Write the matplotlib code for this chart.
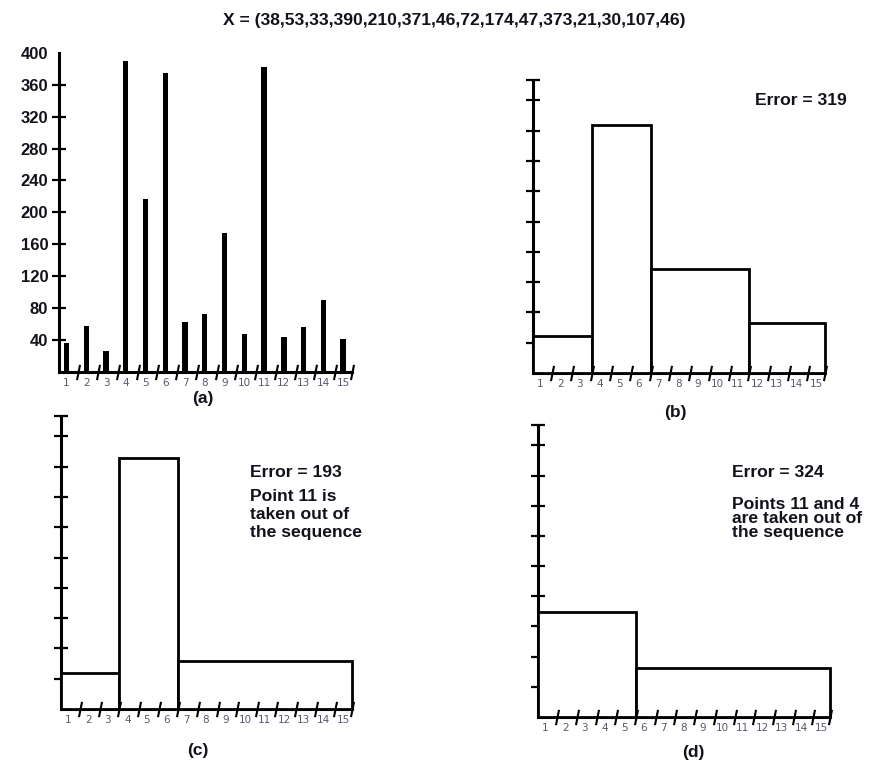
import matplotlib
matplotlib.use("Agg")
import matplotlib.pyplot as plt
import numpy as np

# ---------------- data ----------------
title_text = "X = (38,53,33,390,210,371,46,72,174,47,373,21,30,107,46)"
points = list(range(1, 16))
point_labels = [str(p) for p in points]

# panel (a): bar heights
values_a = [36, 58, 26, 390, 217, 375, 63, 73, 174, 48, 382, 44, 56, 90, 41]
yticks_a = [40, 80, 120, 160, 200, 240, 280, 320, 360, 400]
ylabels_a = [str(v) for v in yticks_a]

# panel (b): segments (first point of each segment) and segment levels
seg_start_b = [1, 4, 7, 12]
seg_level_b = [49, 327, 137, 66]
note_b = "Error = 319"

# panel (c)
seg_start_c = [1, 4, 7]
seg_level_c = [48, 331, 63]
note_c = "Error = 193"
text_c = "Point 11 is\ntaken out of\nthe sequence"

# panel (d)
seg_start_d = [1, 6]
seg_level_d = [139, 65]
note_d = "Error = 324"
text_d = "Points 11 and 4\nare taken out of\nthe sequence"

panel_names = ["(a)", "(b)", "(c)", "(d)"]
yticks_seg = [40, 80, 120, 160, 200, 240, 280, 320, 360]

# ---------------- layout ----------------
W, H = 871, 763
fig = plt.figure(figsize=(W / 100, H / 100), dpi=100)
fig.patch.set_facecolor("white")

X0, X1 = 0.62, 15.45
YTOP_SEG = 387
BOLD = dict(family="Liberation Sans", fontweight="bold", color="#12121c")
TXT = 12.6


def add_ax(left, right, top, bottom):
    return fig.add_axes([left / W, 1 - bottom / H, (right - left) / W, (bottom - top) / H])


bounds = [p + 0.6 for p in points[:-1]] + [X1]
slant = [(-0.2, -1.0), (0.2, 1.0)]


def style(ax, ytop, yticks, ylabels=None):
    ax.set_xlim(X0, X1)
    ax.set_ylim(0, ytop)
    ax.patch.set_visible(False)
    for s in ["top", "right"]:
        ax.spines[s].set_visible(False)
    for s in ["left", "bottom"]:
        ax.spines[s].set_linewidth(2.2)
        ax.spines[s].set_capstyle("projecting")
    ax.set_xticks(points)
    ax.set_xticklabels(point_labels, fontsize=7.5, color="#57576f", family="DejaVu Sans")
    ax.tick_params(axis="x", length=0, pad=4)
    ax.set_yticks(yticks)
    if ylabels is None:
        ax.set_yticklabels([])
    else:
        ax.set_yticklabels(ylabels, fontsize=12, **BOLD)
    ax.tick_params(axis="y", direction="inout", length=9.5, width=1.6, pad=3)
    ax.plot(bounds, np.zeros(len(bounds)), linestyle="none", marker=slant, ms=11,
            mew=1.5, mfc="none", color="black", clip_on=False, zorder=5)


def segments(ax, starts, levels):
    lefts = [X0] + [s - 0.4 for s in starts[1:]]
    rights = lefts[1:] + [X1]
    widths = np.array(rights) - np.array(lefts)
    ax.bar(lefts, levels, width=widths, align="edge", facecolor="white",
           edgecolor="black", linewidth=2.0, zorder=3, clip_on=False)


# (a)
ax_a = add_ax(59, 352, 372 - 400 * 0.798, 372)
style(ax_a, 400, yticks_a, ylabels_a)
ax_a.get_yaxis().get_major_ticks()[-1].tick1line.set_visible(False)
ax_a.bar(points, values_a, width=0.27, color="black", zorder=3)

# (b)
ax_b = add_ax(533, 825, 80, 373)
style(ax_b, YTOP_SEG, yticks_seg + [YTOP_SEG])
segments(ax_b, seg_start_b, seg_level_b)

# (c)
ax_c = add_ax(61, 352, 416, 709)
style(ax_c, YTOP_SEG, yticks_seg + [YTOP_SEG])
segments(ax_c, seg_start_c, seg_level_c)

# (d)
ax_d = add_ax(538, 830, 425, 717)
style(ax_d, YTOP_SEG, yticks_seg + [YTOP_SEG])
segments(ax_d, seg_start_d, seg_level_d)


def ftext(x, y, s, **kw):
    fig.text(x / W, 1 - y / H, s, **kw)


ftext(454, 24.5, title_text, ha="center", va="baseline", fontsize=TXT, **BOLD)

ftext(755, 105, note_b, ha="left", va="baseline", fontsize=TXT, **BOLD)
ftext(250, 476.7, note_c, ha="left", va="baseline", fontsize=TXT, **BOLD)
ftext(250, 536.7, text_c, ha="left", va="baseline", fontsize=TXT, linespacing=1.22, **BOLD)
ftext(732, 476.7, note_d, ha="left", va="baseline", fontsize=TXT, **BOLD)
ftext(732, 537.5, text_d, ha="left", va="baseline", fontsize=TXT, linespacing=0.95, **BOLD)

for name, (x, y) in zip(panel_names, [(203, 399), (675, 413), (198, 750), (693, 752)]):
    ftext(x, y, name, ha="center", va="center", fontsize=12.5, **BOLD)

fig.savefig("out.png", dpi=100, facecolor="white")
